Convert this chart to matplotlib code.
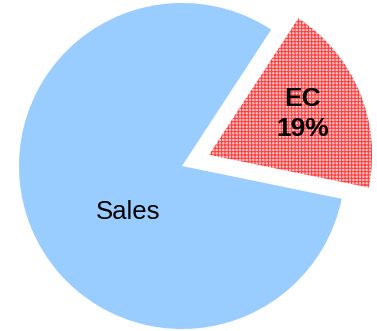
import matplotlib.pyplot as plt

labels = ["EC", "Sales"]
shares = [19, 81]
explode = [0.18, 0.0]

plt.rcParams['font.family'] = ['Liberation Sans', 'DejaVu Sans']
plt.rcParams['hatch.linewidth'] = 0.8

fig = plt.figure(figsize=(3.77, 3.31), dpi=100)
ax = fig.add_axes([0, 0, 1, 1])

wedges, _ = ax.pie(shares, explode=explode, startangle=-11.6, counterclock=True,
                   colors=["#ffcaca", "#99ccff"], radius=1.0)
# EC slice gets a fine red/white grid texture
wedges[0].set_hatch("+++++")
wedges[0].set_edgecolor("#ff4040")
wedges[0].set_linewidth(0)
wedges[1].set_linewidth(0)

ax.text(-0.33, -0.28, "Sales", ha="center", va="center", fontsize=18.5)
ax.text(0.742, 0.32, "EC\n" + str(shares[0]) + "%", ha="center", va="center",
        fontsize=19, fontweight="bold", linespacing=1.35)

ax.set_aspect("auto")
ax.set_xlim(-182 / 163, 195 / 163)
ax.set_ylim(-165 / 163, 166 / 163)
ax.axis("off")

fig.savefig("out.png", dpi=100)
